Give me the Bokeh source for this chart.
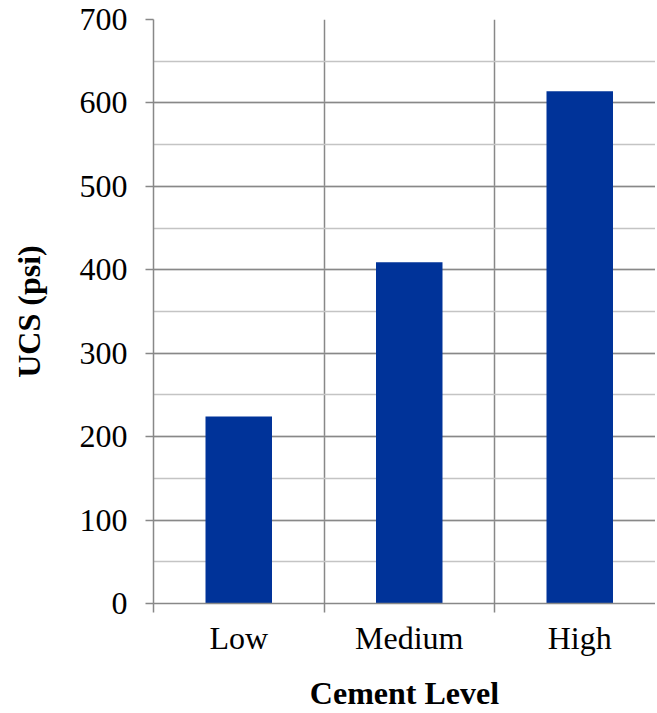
from bokeh.plotting import figure
from bokeh.models import Range1d, FixedTicker, SingleIntervalTicker, ColumnDataSource
from bokeh.embed import file_html
from bokeh.resources import INLINE

categories = ["Low", "Medium", "High"]
ucs_values = [224, 409, 614]
y_ticks_interval = 100

positions = [i + 0.5 for i in range(len(categories))]
src = ColumnDataSource(dict(x=positions, top=ucs_values, cat=categories))

W, H = 655, 713
LEFT = 153
p = figure(width=W, height=H, output_backend="svg", toolbar_location=None,
           x_range=Range1d(0, (W - LEFT) / 170.5), y_range=Range1d(0, 700),
           min_border_left=LEFT, min_border_right=0, min_border_top=19, min_border_bottom=110)
p.outline_line_color = None
p.background_fill_color = "white"
p.border_fill_color = "white"

p.vbar(x="x", top="top", width=0.39, bottom=0, source=src, fill_color="#003399", line_color=None)

FONT = "Liberation Serif"
GRAY = "#888888"
LIGHT = "#c4c4c4"

# x axis
xa = p.xaxis[0]
xa.ticker = FixedTicker(ticks=positions, minor_ticks=[0, 1, 2, 3])
xa.major_label_overrides = {pos: c for pos, c in zip(positions, categories)}
xa.major_tick_line_color = None
xa.minor_tick_line_color = GRAY
xa.minor_tick_out = 9
xa.minor_tick_in = 0
xa.axis_line_color = GRAY
xa.axis_line_width = 1.5
xa.minor_tick_line_width = 1.5
xa.major_label_text_font = FONT
xa.major_label_text_font_size = "32px"
xa.major_label_text_color = "black"
xa.major_label_standoff = 7
xa.axis_label = "Cement Level"
xa.axis_label_text_font = FONT
xa.axis_label_text_font_style = "bold"
xa.axis_label_text_font_size = "32px"
xa.axis_label_text_color = "black"
xa.axis_label_standoff = 16

# y axis
ya = p.yaxis[0]
ya.ticker = SingleIntervalTicker(interval=y_ticks_interval, num_minor_ticks=2)
ya.major_tick_line_color = GRAY
ya.major_tick_line_width = 1.5
ya.major_tick_out = 8
ya.major_tick_in = 0
ya.minor_tick_line_color = None
ya.axis_line_color = GRAY
ya.axis_line_width = 1.5
ya.major_label_text_font = FONT
ya.major_label_text_font_size = "32px"
ya.major_label_text_color = "black"
ya.major_label_standoff = 18
ya.axis_label = "UCS (psi)"
ya.axis_label_text_font = FONT
ya.axis_label_text_font_style = "bold"
ya.axis_label_text_font_size = "32px"
ya.axis_label_text_color = "black"
ya.axis_label_standoff = 30

# grids
p.xgrid.ticker = FixedTicker(ticks=[1, 2, 3])
p.xgrid.grid_line_color = GRAY
p.xgrid.grid_line_width = 1.5
p.ygrid.grid_line_color = GRAY
p.ygrid.grid_line_width = 1.5
p.ygrid.minor_grid_line_color = LIGHT
p.ygrid.minor_grid_line_width = 1.5
p.xgrid.level = "underlay"
p.ygrid.level = "underlay"

open("out.html", "w").write(file_html(p, INLINE))
